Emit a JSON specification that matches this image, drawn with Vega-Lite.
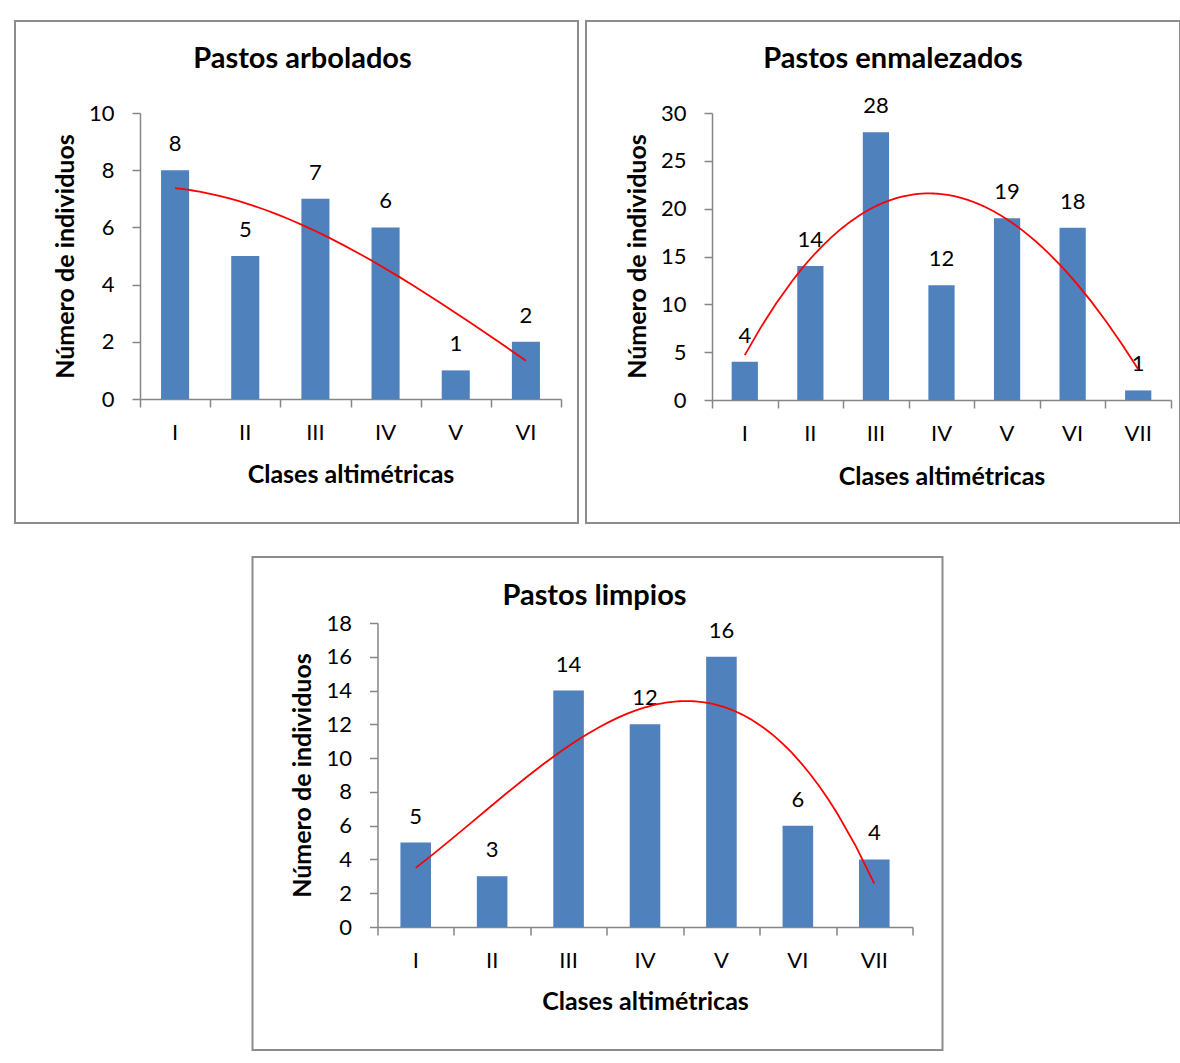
{
  "$schema": "https://vega.github.io/schema/vega-lite/v6.json",
  "background": "white",
  "padding": {"left": 14, "top": 20, "right": 0, "bottom": 0},
  "datasets": {
    "arbolados": [
      {"clase": "I", "n": 1, "v": 8},
      {"clase": "II", "n": 2, "v": 5},
      {"clase": "III", "n": 3, "v": 7},
      {"clase": "IV", "n": 4, "v": 6},
      {"clase": "V", "n": 5, "v": 1},
      {"clase": "VI", "n": 6, "v": 2}
    ],
    "enmalezados": [
      {"clase": "I", "n": 1, "v": 4},
      {"clase": "II", "n": 2, "v": 14},
      {"clase": "III", "n": 3, "v": 28},
      {"clase": "IV", "n": 4, "v": 12},
      {"clase": "V", "n": 5, "v": 19},
      {"clase": "VI", "n": 6, "v": 18},
      {"clase": "VII", "n": 7, "v": 1}
    ],
    "limpios": [
      {"clase": "I", "n": 1, "v": 5},
      {"clase": "II", "n": 2, "v": 3},
      {"clase": "III", "n": 3, "v": 14},
      {"clase": "IV", "n": 4, "v": 12},
      {"clase": "V", "n": 5, "v": 16},
      {"clase": "VI", "n": 6, "v": 6},
      {"clase": "VII", "n": 7, "v": 4}
    ]
  },
  "center": true,
  "spacing": 32,
  "vconcat": [
    {
      "spacing": 6,
      "hconcat": [
        {
          "width": 563,
          "height": 502,
          "title": {"text": "Pastos arbolados", "offset": -53, "dx": 6},
          "data": {"name": "arbolados"},
          "layer": [
            {
              "mark": {"type": "bar", "color": "#4F81BD"},
              "encoding": {
                "x": {
                  "field": "clase", "type": "ordinal", "sort": null,
                  "scale": {"range": [125, 546], "paddingInner": 0.6, "paddingOuter": 0.3},
                  "axis": {"orient": "bottom", "offset": -124, "ticks": false, "tickSize": 0, "domain": false, "labelPadding": 23, "labelAngle": 0,
                    "title": "Clases altimétricas", "titleY": 75, "titleBaseline": "middle"}
                },
                "y": {
                  "field": "v", "type": "quantitative",
                  "scale": {"domain": [0, 10], "range": [378, 92], "nice": false},
                  "axis": {"offset": -125, "values": [0, 2, 4, 6, 8, 10], "title": "Número de individuos", "titleX": -75, "titleY": 235, "titleBaseline": "middle", "titleAlign": "center"}
                }
              }
            },
            {
              "mark": {"type": "text", "dy": -26, "fontSize": 22, "font": "Lato", "color": "black", "baseline": "middle"},
              "encoding": {
                "x": {"field": "clase", "type": "ordinal", "sort": null, "scale": {"range": [125, 546], "paddingInner": 0.6, "paddingOuter": 0.3}, "axis": null},
                "y": {"field": "v", "type": "quantitative"},
                "text": {"field": "v", "type": "quantitative"}
              }
            },
            {
              "transform": [{"regression": "v", "on": "n", "method": "poly", "order": 3, "extent": [1, 6]}],
              "mark": {"type": "line", "color": "#FF0000", "strokeWidth": 1.8},
              "encoding": {
                "x": {
                  "field": "n", "type": "quantitative",
                  "scale": {"domain": [0.5, 6.5], "range": [125, 546], "nice": false, "zero": false},
                  "axis": {"orient": "bottom", "offset": -124, "values": [0.5, 1.5, 2.5, 3.5, 4.5, 5.5, 6.5], "labels": false, "title": null, "tickSize": 8}
                },
                "y": {"field": "v", "type": "quantitative"}
              }
            }
          ],
          "resolve": {"scale": {"x": "independent"}, "axis": {"x": "independent"}}
        },
        {
          "width": 594,
          "height": 502,
          "title": {"text": "Pastos enmalezados", "offset": -53, "dx": 10},
          "data": {"name": "enmalezados"},
          "layer": [
            {
              "mark": {"type": "bar", "color": "#4F81BD"},
              "encoding": {
                "x": {
                  "field": "clase", "type": "ordinal", "sort": null,
                  "scale": {"range": [126, 585], "paddingInner": 0.6, "paddingOuter": 0.3},
                  "axis": {"orient": "bottom", "offset": -123, "ticks": false, "tickSize": 0, "domain": false, "labelPadding": 23, "labelAngle": 0,
                    "title": "Clases altimétricas", "titleY": 76, "titleBaseline": "middle"}
                },
                "y": {
                  "field": "v", "type": "quantitative",
                  "scale": {"domain": [0, 30], "range": [379, 92], "nice": false},
                  "axis": {"offset": -126, "values": [0, 5, 10, 15, 20, 25, 30], "title": "Número de individuos", "titleX": -75, "titleY": 235, "titleBaseline": "middle", "titleAlign": "center"}
                }
              }
            },
            {
              "mark": {"type": "text", "dy": -26, "fontSize": 22, "font": "Lato", "color": "black", "baseline": "middle"},
              "encoding": {
                "x": {"field": "clase", "type": "ordinal", "sort": null, "scale": {"range": [126, 585], "paddingInner": 0.6, "paddingOuter": 0.3}, "axis": null},
                "y": {"field": "v", "type": "quantitative"},
                "text": {"field": "v", "type": "quantitative"}
              }
            },
            {
              "transform": [{"regression": "v", "on": "n", "method": "poly", "order": 3, "extent": [1, 7]}],
              "mark": {"type": "line", "color": "#FF0000", "strokeWidth": 1.8},
              "encoding": {
                "x": {
                  "field": "n", "type": "quantitative",
                  "scale": {"domain": [0.5, 7.5], "range": [126, 585], "nice": false, "zero": false},
                  "axis": {"orient": "bottom", "offset": -123, "values": [0.5, 1.5, 2.5, 3.5, 4.5, 5.5, 6.5, 7.5], "labels": false, "title": null, "tickSize": 8}
                },
                "y": {"field": "v", "type": "quantitative"}
              }
            }
          ],
          "resolve": {"scale": {"x": "independent"}, "axis": {"x": "independent"}}
        }
      ]
    },
    {
      "width": 690,
      "height": 493,
      "title": {"text": "Pastos limpios", "offset": -54, "dx": -3},
      "data": {"name": "limpios"},
      "layer": [
        {
          "mark": {"type": "bar", "color": "#4F81BD"},
          "encoding": {
            "x": {
              "field": "clase", "type": "ordinal", "sort": null,
              "scale": {"range": [125, 660], "paddingInner": 0.6, "paddingOuter": 0.3},
              "axis": {"orient": "bottom", "offset": -123, "ticks": false, "tickSize": 0, "domain": false, "labelPadding": 23, "labelAngle": 0,
                "title": "Clases altimétricas", "titleY": 74, "titleBaseline": "middle"}
            },
            "y": {
              "field": "v", "type": "quantitative",
              "scale": {"domain": [0, 18], "range": [370, 66], "nice": false},
              "axis": {"offset": -125, "values": [0, 2, 4, 6, 8, 10, 12, 14, 16, 18], "title": "Número de individuos", "titleX": -75, "titleY": 218, "titleBaseline": "middle", "titleAlign": "center"}
            }
          }
        },
        {
          "mark": {"type": "text", "dy": -26, "fontSize": 22, "font": "Lato", "color": "black", "baseline": "middle"},
          "encoding": {
            "x": {"field": "clase", "type": "ordinal", "sort": null, "scale": {"range": [125, 660], "paddingInner": 0.6, "paddingOuter": 0.3}, "axis": null},
            "y": {"field": "v", "type": "quantitative"},
            "text": {"field": "v", "type": "quantitative"}
          }
        },
        {
          "transform": [{"regression": "v", "on": "n", "method": "poly", "order": 3, "extent": [1, 7]}],
          "mark": {"type": "line", "color": "#FF0000", "strokeWidth": 1.8},
          "encoding": {
            "x": {
              "field": "n", "type": "quantitative",
              "scale": {"domain": [0.5, 7.5], "range": [125, 660], "nice": false, "zero": false},
              "axis": {"orient": "bottom", "offset": -123, "values": [0.5, 1.5, 2.5, 3.5, 4.5, 5.5, 6.5, 7.5], "labels": false, "title": null, "tickSize": 8}
            },
            "y": {"field": "v", "type": "quantitative"}
          }
        }
      ],
      "resolve": {"scale": {"x": "independent"}, "axis": {"x": "independent"}}
    }
  ],
  "config": {
    "view": {"stroke": "#8C8C8C", "strokeWidth": 2},
    "title": {"font": "Lato", "fontSize": 29, "fontWeight": "bold", "color": "black", "anchor": "middle", "baseline": "middle"},
    "axis": {
      "grid": false,
      "domainColor": "#868686", "domainWidth": 1.5,
      "tickColor": "#868686", "tickWidth": 1.5, "tickSize": 8,
      "labelFont": "Lato", "labelFontSize": 22, "labelColor": "black", "labelPadding": 18,
      "titleFont": "Lato", "titleFontSize": 25, "titleFontWeight": "bold", "titleColor": "black"
    }
  }
}
